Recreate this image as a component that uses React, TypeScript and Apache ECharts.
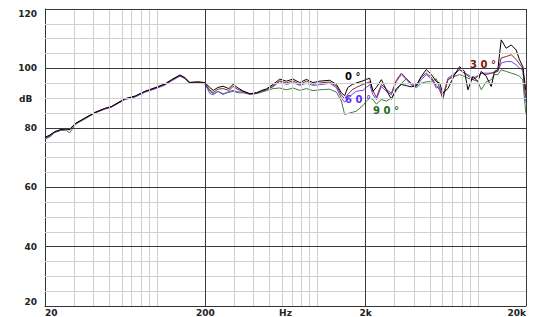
import React, { useEffect, useRef } from "react";
import * as echarts from "echarts";

// Frequencies (Hz) shared by all four curves
const FREQ_HZ = [
  20, 21.5, 23, 25, 27, 28.5, 31, 35.5, 41, 47, 52, 63, 73, 84, 97, 112, 123, 139, 149, 160,
  180, 199, 213, 224, 240, 258, 280, 298, 320, 344, 379, 417, 450, 481, 529, 582, 641, 705, 776, 854,
  940, 1034, 1194, 1314, 1411, 1479, 1545, 1650, 1750, 1924, 2020, 2118, 2222, 2332, 2506, 2692, 2892, 3108, 3338, 3586,
  3852, 4140, 4446, 4776, 5132, 5514, 5780, 6060, 6516, 7168, 7702, 8276, 8680, 9326, 10020, 10520, 11300, 12140, 12730, 13340,
  14010, 15060, 16180, 17380, 18220, 19100, 19860, 20000,
];

const DB_0 = [
  76.8, 77.6, 78.7, 79.4, 79.7, 79.5, 81.5, 83.3, 85.2, 86.5, 87.2, 89.8, 90.7, 92.3, 93.5, 94.8, 96.2, 97.8, 96.9, 95.3,
  95.5, 95.2, 93.6, 92.6, 93.6, 94.0, 93.2, 94.6, 93.4, 92.4, 91.5, 91.8, 92.6, 93.1, 94.6, 96.4, 95.7, 96.4, 95.2, 96.3,
  95.2, 95.7, 96.0, 94.6, 91.8, 90.8, 93.5, 94.6, 95.1, 95.8, 96.3, 96.7, 92.3, 93.6, 96.2, 92.8, 89.6, 93.2, 94.6, 94.2,
  93.8, 94.2, 97.3, 99.6, 98.0, 95.6, 95.1, 91.7, 93.2, 97.8, 100.6, 99.0, 92.8, 97.3, 95.6, 99.0, 97.3, 93.9, 99.0, 99.6,
  109.6, 106.8, 107.9, 106.2, 102.9, 100.6, 93.5, 92.5,
];

const DB_30 = [
  76.6, 77.4, 78.6, 79.3, 79.6, 79.4, 81.4, 83.2, 85.1, 86.4, 87.1, 89.7, 90.6, 92.2, 93.3, 94.6, 96.0, 97.6, 96.7, 95.1,
  95.3, 95.0, 92.8, 91.9, 93.0, 93.2, 92.6, 93.9, 92.9, 92.2, 91.4, 91.7, 92.4, 92.9, 94.1, 95.8, 95.1, 95.8, 94.6, 95.7,
  94.7, 95.1, 95.4, 94.0, 91.0, 89.8, 91.2, 92.8, 93.6, 94.6, 95.0, 95.5, 92.5, 90.2, 94.6, 93.0, 91.6, 96.0, 98.4, 96.6,
  95.0, 94.4, 97.0, 98.4, 97.0, 94.2, 92.8, 90.0, 96.2, 97.9, 99.7, 98.4, 97.5, 96.2, 97.3, 98.4, 97.9, 98.4, 98.6, 99.0,
  103.5, 104.0, 104.6, 103.0, 101.5, 100.0, 91.0, 90.0,
];

const DB_60 = [
  76.3, 77.2, 78.5, 79.2, 79.5, 79.3, 81.3, 83.1, 85.0, 86.3, 87.0, 89.5, 90.4, 92.0, 93.1, 94.4, 95.8, 97.4, 96.6, 95.0,
  95.1, 94.8, 91.6, 91.1, 92.3, 91.2, 92.2, 92.6, 92.1, 92.0, 91.3, 91.6, 92.3, 92.8, 93.8, 95.6, 94.6, 95.2, 94.3, 95.0,
  94.3, 94.5, 95.0, 93.5, 90.0, 88.6, 89.8, 91.3, 92.3, 92.6, 93.6, 94.5, 91.1, 89.5, 93.9, 92.3, 91.1, 95.6, 97.9, 96.2,
  94.5, 93.9, 96.2, 97.9, 96.5, 93.4, 93.9, 89.5, 96.7, 98.4, 99.5, 98.4, 97.9, 96.7, 97.6, 98.4, 98.4, 98.4, 98.8, 99.0,
  101.8, 102.3, 102.3, 101.2, 100.1, 99.5, 89.5, 88.5,
];

const DB_90 = [
  76.2, 77.0, 78.4, 79.1, 79.2, 78.3, 81.2, 83.0, 85.0, 86.3, 87.0, 89.6, 90.5, 92.1, 93.2, 94.5, 95.9, 97.5, 96.7, 95.1,
  95.2, 94.9, 92.3, 91.5, 92.2, 91.5, 91.9, 92.3, 91.8, 91.8, 91.3, 91.5, 92.0, 92.5, 93.2, 93.4, 92.8, 93.4, 92.6, 93.2,
  92.5, 92.8, 93.0, 92.0, 89.0, 84.5, 84.8, 85.2, 85.6, 87.5, 89.0, 90.0, 89.5, 88.0, 89.5, 89.0, 90.0, 92.5, 95.0, 96.5,
  94.5, 93.5, 95.0, 95.5, 95.5, 96.5, 93.4, 91.1, 96.2, 97.3, 97.9, 97.3, 96.7, 96.2, 95.6, 92.8, 95.5, 96.2, 97.9, 97.9,
  99.5, 99.0, 98.4, 97.9, 97.3, 96.2, 86.0, 84.5,
];

// Axis ticks
const X_TICK_FREQS = [20, 200, 2000, 20000];
const X_TICK_LABELS = ["20", "200", "2k", "20k"];
const X_UNIT_FREQ = 632.5; // where "Hz" sits (half a decade after 200)
const X_UNIT_LABEL = "Hz";
const Y_TICKS = [20, 40, 60, 80, 100, 120];
const Y_MINOR = [25, 30, 35, 45, 50, 55, 65, 70, 75, 85, 90, 95, 105, 110, 115];
const X_MINOR_FREQS = [
  30, 40, 50, 60, 70, 80, 90, 100,
  300, 400, 500, 600, 700, 800, 900, 1000,
  3000, 4000, 5000, 6000, 7000, 8000, 9000, 10000,
];
const X_MAJOR_FREQS = [200, 2000, 20000];

const SERIES = [
  { name: "90°", values: DB_90, color: "#3d7d3d" },
  { name: "60°", values: DB_60, color: "#6b45ff" },
  { name: "30°", values: DB_30, color: "#8a2a2a" },
  { name: "0°", values: DB_0, color: "#000000" },
];

const lx = (f: number) => Math.log10(f / 20);

export default function App() {
  const ref = useRef<HTMLDivElement>(null);
  useEffect(() => {
    if (!ref.current) return;
    const chart = echarts.init(ref.current, undefined, { renderer: "svg" });
    const font = "DejaVu Sans";
    const xLabelMap: Record<string, string> = {};
    X_TICK_FREQS.forEach((f, i) => {
      xLabelMap[(Math.round(lx(f) * 2) / 2).toFixed(1)] = X_TICK_LABELS[i];
    });
    xLabelMap[(Math.round(lx(X_UNIT_FREQ) * 2) / 2).toFixed(1)] = X_UNIT_LABEL;

    const gridSeries = (data: any[], color: string) => ({
      type: "line",
      data: [],
      silent: true,
      z: 1,
      markLine: {
        silent: true,
        symbol: ["none", "none"],
        label: { show: false },
        emphasis: { disabled: true },
        animation: false,
        lineStyle: { color, width: 1, type: "solid" },
        data,
      },
    });

    const option: any = {
      animation: false,
      grid: { left: 45, right: 7, top: 9, bottom: 10, containLabel: false },
      xAxis: {
        type: "value",
        min: 0,
        max: 3,
        interval: 0.5,
        axisLine: { show: true, lineStyle: { color: "#333", width: 1 } },
        axisTick: { show: false },
        splitLine: { show: false },
        axisLabel: {
          formatter: (v: number) => xLabelMap[(Math.round(v * 2) / 2).toFixed(1)] || "",
          fontSize: 9,
          fontWeight: "bold",
          fontFamily: font,
          color: "#222",
          margin: 2,
          alignMinLabel: "left",
          alignMaxLabel: "right",
        },
      },
      yAxis: {
        type: "value",
        min: 20,
        max: 120,
        interval: 20,
        axisLine: { show: true, lineStyle: { color: "#333", width: 1 } },
        axisTick: { show: false },
        splitLine: { show: false },
        axisLabel: {
          formatter: (v: number) => (Y_TICKS.includes(v) ? String(v) : ""),
          fontSize: 9,
          fontWeight: "bold",
          fontFamily: font,
          color: "#222",
          margin: 8,
          verticalAlignMinLabel: "bottom",
          verticalAlignMaxLabel: "top",
        },
      },
      series: [
        gridSeries(
          [
            ...Y_MINOR.map((v) => ({ yAxis: v })),
            ...X_MINOR_FREQS.map((f) => ({ xAxis: lx(f) })),
          ],
          "#cfcfcf"
        ),
        gridSeries(
          [
            ...Y_TICKS.filter((v) => v > 20).map((v) => ({ yAxis: v })),
            ...X_MAJOR_FREQS.map((f) => ({ xAxis: lx(f) })),
          ],
          "#3a3a3a"
        ),
        ...SERIES.map((s) => ({
          name: s.name,
          type: "line",
          z: 3,
          showSymbol: false,
          symbol: "none",
          smooth: false,
          lineStyle: { color: s.color, width: 1 },
          itemStyle: { color: s.color },
          data: FREQ_HZ.map((f, i) => [lx(f), s.values[i]]),
        })),
      ],
      graphic: [
        { type: "text", left: 19, top: 94, style: { text: "dB", fontSize: 9, fontWeight: "bold", fontFamily: font, fill: "#222" } },
        { type: "text", left: 345, top: 71, z: 10, style: { text: "0 °", fontSize: 10, fontWeight: "bold", fontFamily: font, fill: "#000" } },
        { type: "text", left: 345, top: 94, z: 10, style: { text: "6 0 °", fontSize: 10, fontWeight: "bold", fontFamily: font, fill: "#5a30ff" } },
        { type: "text", left: 373, top: 105, z: 10, style: { text: "9 0 °", fontSize: 10, fontWeight: "bold", fontFamily: font, fill: "#1f6a1f" } },
        { type: "text", left: 470, top: 59, z: 10, style: { text: "3 0 °", fontSize: 10, fontWeight: "bold", fontFamily: font, fill: "#7a1515" } },
      ],
    };
    chart.setOption(option);
    return () => chart.dispose();
  }, []);
  return <div ref={ref} style={{ width: 533, height: 317, position: "absolute", left: 0, top: 0, background: "#fff" }} />;
}
